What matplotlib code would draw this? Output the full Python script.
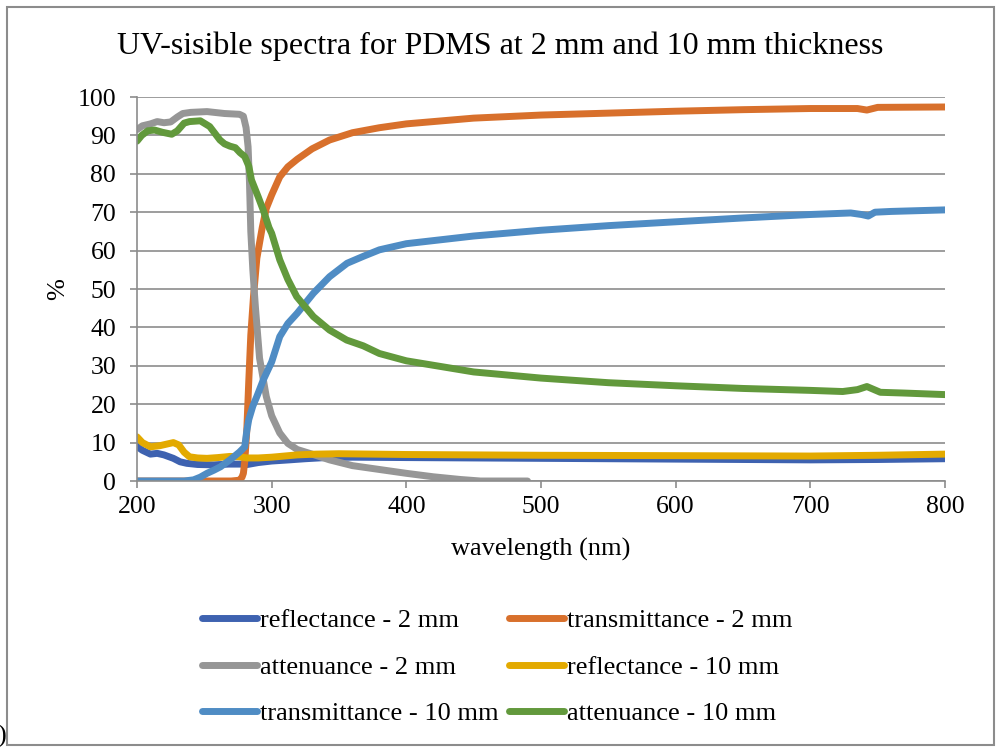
import matplotlib
matplotlib.use("Agg")
import matplotlib.pyplot as plt
from matplotlib.patches import Rectangle

plt.rcParams['font.family'] = ['Liberation Serif', 'DejaVu Serif']

# reflectance - 2 mm
wl_r2 = [200, 204, 210, 215, 220, 227, 232, 237, 245, 257, 268, 277, 282, 290, 300, 313, 325, 340, 360, 400, 450, 500, 550, 600, 650, 700, 750, 800]
r2 = [9.0, 8.0, 7.0, 7.2, 6.8, 5.9, 5.0, 4.6, 4.3, 4.2, 4.4, 4.4, 4.3, 4.8, 5.2, 5.5, 5.8, 6.1, 6.2, 6.1, 6.0, 5.9, 5.8, 5.7, 5.6, 5.5, 5.6, 5.8]

# transmittance - 2 mm
wl_t2 = [200, 270, 276, 278, 279, 280, 281.5, 283, 284.5, 286.5, 289, 293, 296, 300, 306, 312, 319, 330, 343, 360, 380, 400, 450, 500, 550, 600, 650, 700, 735, 742, 750, 800]
t2 = [0, 0, 0.2, 1, 2, 5, 13, 26, 38, 48, 58, 66, 71, 74.5, 79.2, 81.8, 83.8, 86.5, 88.8, 90.7, 92.0, 93.0, 94.5, 95.3, 95.8, 96.3, 96.7, 97.0, 97.0, 96.6, 97.3, 97.4]

# attenuance - 2 mm
wl_a2 = [200, 204, 210, 215, 220, 225, 230, 234, 240, 252, 265, 276, 279, 281, 282.5, 283.5, 284.5, 286, 288, 291, 294, 296, 300, 306, 312, 319, 330, 343, 360, 380, 400, 420, 440, 455, 490]
a2 = [91.5, 92.5, 93, 93.6, 93.3, 93.5, 94.8, 95.7, 96.0, 96.2, 95.7, 95.5, 95.0, 92, 87, 78, 65, 55, 45, 32, 26, 22, 17, 12.5, 9.8, 8.2, 7.0, 5.5, 4.0, 3.0, 2.0, 1.1, 0.4, 0, 0]

# reflectance - 10 mm
wl_r10 = [200, 204, 210, 217, 222, 227, 231, 235, 239, 245, 252, 260, 269, 276, 282, 290, 300, 319, 333, 350, 400, 500, 600, 700, 750, 800]
r10 = [11.5, 10, 8.9, 9.2, 9.6, 10, 9.4, 7.5, 6.3, 6.0, 5.9, 6.1, 6.4, 6.3, 6.0, 6.0, 6.2, 6.8, 7.0, 7.1, 6.9, 6.7, 6.6, 6.5, 6.7, 7.0]

# transmittance - 10 mm
wl_t10 = [200, 235, 242, 247, 252, 257, 262, 269, 276, 280, 281.5, 283, 286, 289, 294, 300, 306, 312, 319, 331, 343, 356, 368, 380, 400, 450, 500, 550, 600, 650, 700, 730, 738, 743, 748, 760, 800]
t10 = [0, 0, 0.3, 1.0, 2.0, 2.8, 3.7, 5.5, 7.5, 8.9, 13, 16, 19.5, 22, 26.5, 31, 37.6, 41, 43.7, 48.9, 53.2, 56.7, 58.5, 60.2, 61.8, 63.8, 65.3, 66.5, 67.5, 68.5, 69.4, 69.8, 69.4, 69.0, 70.0, 70.2, 70.6]

# attenuance - 10 mm
wl_a10 = [200, 203.5, 208, 213, 219, 225.8, 230, 235, 239, 247, 254, 261.6, 265, 269, 273, 276.5, 280, 283, 285, 290, 294, 298, 300, 306, 312, 318.6, 331, 343, 355.7, 368, 380, 400, 450, 500, 550, 600, 650, 700, 724, 735, 742, 752, 770, 800]
a10 = [88.5, 90, 91.2, 91.4, 90.8, 90.3, 91.2, 93.2, 93.6, 93.8, 92.3, 88.8, 87.8, 87.2, 86.8, 85.5, 84.5, 82, 78.4, 74, 70.3, 66, 64.5, 57.6, 52.5, 48, 42.8, 39.3, 36.7, 35.2, 33.2, 31.3, 28.4, 26.8, 25.6, 24.8, 24.1, 23.6, 23.3, 23.8, 24.6, 23.1, 22.9, 22.5]

series = [
    ("reflectance - 2 mm", wl_r2, r2, "#3E62B0"),
    ("transmittance - 2 mm", wl_t2, t2, "#D8702C"),
    ("attenuance - 2 mm", wl_a2, a2, "#969696"),
    ("reflectance - 10 mm", wl_r10, r10, "#E3AA00"),
    ("transmittance - 10 mm", wl_t10, t10, "#4F8CC4"),
    ("attenuance - 10 mm", wl_a10, a10, "#62993C"),
]

fig = plt.figure(figsize=(9.96, 7.47), dpi=100)
ax = fig.add_axes([137/996, 1 - 481/747, (945 - 137)/996, (481 - 97)/747])

for name, x, y, c in series:
    ax.plot(x, y, color=c, lw=5, label=name, solid_capstyle='round', solid_joinstyle='round')

ax.set_xlim(200, 800)
ax.set_ylim(0, 100)
ax.set_xticks(range(200, 801, 100))
ax.set_yticks(range(0, 101, 10))
ax.grid(axis='y', color='#8C8C8C', lw=1.2)
ax.set_axisbelow(True)
for s in ['top', 'right']:
    ax.spines[s].set_visible(False)
for s in ['left', 'bottom']:
    ax.spines[s].set_color('#8C8C8C')
    ax.spines[s].set_linewidth(1.2)
ax.tick_params(colors='#8C8C8C', labelcolor='black', labelsize=18.5, length=5, width=1.2)
ax.tick_params(axis='y', pad=10)
ax.tick_params(axis='x', pad=6)

ax.set_xlabel("wavelength (nm)", fontsize=19, labelpad=14)
ax.set_ylabel("%", fontsize=19, labelpad=6)
fig.text(500/996, 1 - 46/747, "UV-sisible spectra for PDMS at 2 mm and 10 mm thickness",
         ha='center', va='center', fontsize=23)

# legend filled row by row, like the original
handles, labels = ax.get_legend_handles_labels()
order = [0, 2, 4, 1, 3, 5]
fig.legend([handles[i] for i in order], [labels[i] for i in order],
           loc='center', bbox_to_anchor=(497/996, 1 - 667/747), ncol=2,
           frameon=False, fontsize=19, handlelength=2.1, handletextpad=0.1,
           columnspacing=0.4, labelspacing=0.88)

fig.patches.append(Rectangle((7/996, 1 - 745/747), (994 - 7)/996, (745 - 7)/747,
                             transform=fig.transFigure, fill=False, edgecolor='#8C8C8C', lw=1.5))
# the cropped edge of a panel label, as in the original
fig.text(0.006, 1 - 736/747, ")", ha='right', va='center', fontsize=19)

fig.savefig("out.png", dpi=100)
